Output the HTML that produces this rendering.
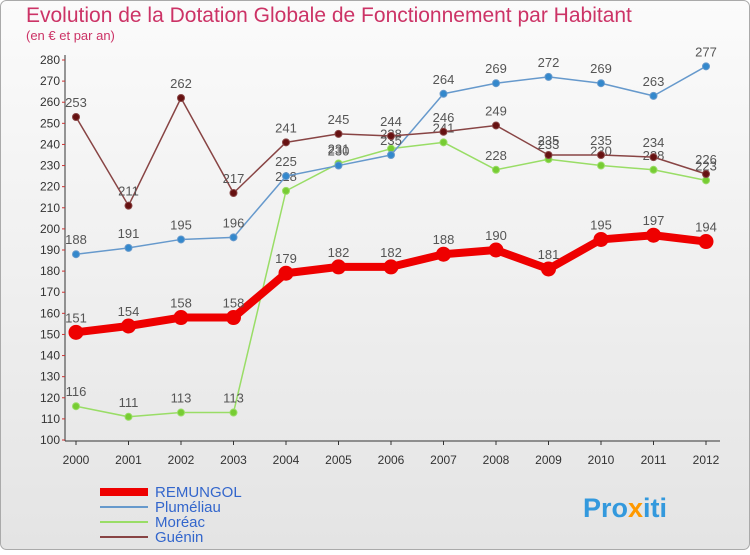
<!DOCTYPE html>
<html><head><meta charset="utf-8"><style>
body{margin:0;width:750px;height:550px;overflow:hidden;font-family:"Liberation Sans",sans-serif}
</style></head><body>
<svg id="c" width="750" height="550" xmlns="http://www.w3.org/2000/svg">
<defs><linearGradient id="bg" x1="0" y1="0" x2="0" y2="1"><stop offset="0" stop-color="#fbfbfb"/><stop offset="1" stop-color="#e4e4e4"/></linearGradient></defs>
<rect x="0.5" y="0.5" width="749" height="549" rx="6" fill="url(#bg)" stroke="#aaa"/>
<text x="26" y="22" font-size="21" fill="#cc3366">Evolution de la Dotation Globale de Fonctionnement par Habitant</text>
<text x="26" y="40" font-size="13" fill="#cc3366">(en € et par an)</text>
<g id="axes"></g><g id="series"></g><g id="legend"></g>
<text x="583" y="517" font-size="27" font-weight="bold" fill="#3399dd">Pro<tspan fill="#ff9900">x</tspan>iti</text>
</svg>
<script>
const years=["2000","2001","2002","2003","2004","2005","2006","2007","2008","2009","2010","2011","2012"];
const remungol=[151,154,158,158,179,182,182,188,190,181,195,197,194];
const plumeliau=[188,191,195,196,225,230,235,264,269,272,269,263,277];
const moreac=[116,111,113,113,218,231,238,241,228,233,230,228,223];
const guenin=[253,211,262,217,241,245,244,246,249,235,235,234,226];
const yTicks=[100,110,120,130,140,150,160,170,180,190,200,210,220,230,240,250,260,270,280];
const NS="http://www.w3.org/2000/svg";
const X=i=>76+i*52.5, Y=v=>440-(v-100)*380/180;
function mk(t,a,p){const e=document.createElementNS(NS,t);for(const k in a)e.setAttribute(k,a[k]);p.appendChild(e);return e;}
const ax=document.getElementById('axes');
let l=mk('line',{x1:65,y1:55,x2:65,y2:441,stroke:'#333'},ax);


l=mk('line',{x1:65,y1:441,x2:720,y2:441,stroke:'#333'},ax);


yTicks.forEach(v=>{const t=mk('text',{x:60,y:Y(v)+4,'font-size':12,'text-anchor':'end',fill:'#333'},ax);t.textContent=v;


mk('line',{x1:62,y1:Y(v),x2:65,y2:Y(v),stroke:'#c33'},ax);});
years.forEach((y,i)=>{const t=mk('text',{x:X(i),y:464,'font-size':12,'text-anchor':'middle',fill:'#333'},ax);t.textContent=y;


mk('line',{x1:X(i),y1:441,x2:X(i),y2:445,stroke:'#333'},ax);});
const sg=document.getElementById('series');
function series(d,name,col,dot,w,r){const g=mk('g',{},sg);


mk('polyline',{points:d.map((v,i)=>X(i)+','+Y(v)).join(' '),fill:'none',stroke:col,'stroke-width':w,'stroke-linejoin':'round'},g);
d.forEach((v,i)=>{const c=mk('circle',{cx:X(i),cy:Y(v),r:r,fill:dot,stroke:col,'stroke-width':1},g);


const t=mk('text',{x:X(i),y:Y(v)-10,'font-size':13,'text-anchor':'middle',fill:'#555'},g);t.textContent=v;

});}
series(moreac,'moreac','#99dd66','#77cc33',1.5,3.5);
series(plumeliau,'plumeliau','#6699cc','#3388cc',1.5,3.5);
series(guenin,'guenin','#884444','#661111',1.5,3.5);
series(remungol,'remungol','#ee0000','#ee0000',8,7);
const lg=document.getElementById('legend');
[["REMUNGOL","#ee0000",8],["Pluméliau","#6699cc",2],["Moréac","#99dd66",2],["Guénin","#884444",2]].forEach((e,i)=>{
const g=mk('g',{},lg);


const y=492+i*15;mk('line',{x1:100,y1:y,x2:148,y2:y,stroke:e[1],'stroke-width':e[2]},g);
const t=mk('text',{x:155,y:y+5,'font-size':15,fill:'#3366cc'},g);t.textContent=e[0];});
</script>
</body></html>
